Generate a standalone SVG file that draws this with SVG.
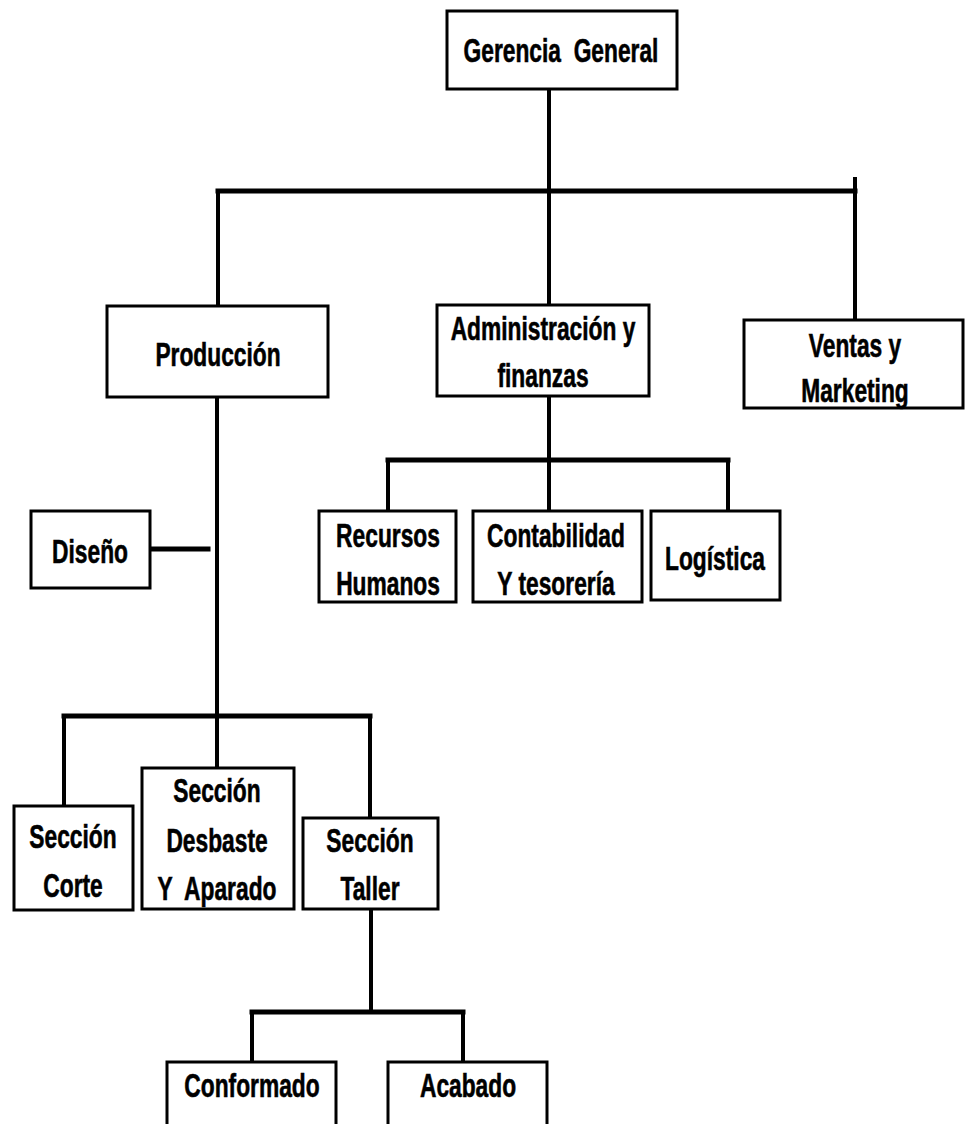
<svg xmlns="http://www.w3.org/2000/svg" width="966" height="1124" viewBox="0 0 966 1124">
  <style>
    .box { fill: #ffffff; stroke: #000000; stroke-width: 3; }
    .t { font-family: "Liberation Sans", Arial, sans-serif; font-weight: bold; font-size: 33px; fill: #000000; stroke: #000000; stroke-width: 0.6; text-anchor: middle; white-space: pre; }
    .ln { stroke: #000000; stroke-width: 4; fill: none; stroke-linecap: square; }
    .hl { stroke: #000000; stroke-width: 5; fill: none; stroke-linecap: square; }
  </style>
  <rect x="0" y="0" width="966" height="1124" fill="#ffffff"/>

  <!-- connectors -->
  <g id="connectors">
    <!-- Gerencia General to first level -->
    <line class="ln" x1="549" y1="89" x2="549" y2="305"/>
    <line class="hl" x1="218" y1="191" x2="855" y2="191"/>
    <line class="ln" x1="218" y1="191" x2="218" y2="306"/>
    <line class="ln" x1="855" y1="179" x2="855" y2="320"/>
    <!-- Administración to its departments -->
    <line class="ln" x1="549" y1="396" x2="549" y2="511"/>
    <line class="hl" x1="388" y1="460" x2="728" y2="460"/>
    <line class="ln" x1="388" y1="460" x2="388" y2="511"/>
    <line class="ln" x1="728" y1="460" x2="728" y2="511"/>
    <!-- Producción trunk -->
    <line class="ln" x1="217" y1="397" x2="217" y2="768"/>
    <line class="hl" x1="150" y1="549" x2="208" y2="549" stroke-linecap="butt"/>
    <line class="hl" x1="64" y1="716" x2="370" y2="716"/>
    <line class="ln" x1="64" y1="716" x2="64" y2="806"/>
    <line class="ln" x1="370" y1="716" x2="370" y2="818"/>
    <!-- Sección Taller to its units -->
    <line class="ln" x1="371" y1="909" x2="371" y2="1012"/>
    <line class="hl" x1="252" y1="1012" x2="463" y2="1012"/>
    <line class="ln" x1="252" y1="1012" x2="252" y2="1062"/>
    <line class="ln" x1="463" y1="1012" x2="463" y2="1062"/>
  </g>

  <g id="gerencia-general">
    <rect class="box" x="447" y="11" width="230" height="78"/>
    <text class="t" xml:space="preserve" transform="translate(561 0) scale(0.69 1)"><tspan x="0" y="62">Gerencia  General</tspan></text>
  </g>

  <g id="produccion">
    <rect class="box" x="107" y="306" width="221" height="91"/>
    <text class="t" transform="translate(218 0) scale(0.69 1)"><tspan x="0" y="366">Producción</tspan></text>
  </g>

  <g id="administracion">
    <rect class="box" x="437" y="305" width="212" height="91"/>
    <text class="t" transform="translate(543 0) scale(0.69 1)"><tspan x="0" y="340">Administración y</tspan><tspan x="0" y="387">finanzas</tspan></text>
  </g>

  <g id="ventas">
    <rect class="box" x="744" y="320" width="219" height="88"/>
    <text class="t" transform="translate(855 0) scale(0.69 1)"><tspan x="0" y="357">Ventas y</tspan><tspan x="0" y="402">Marketing</tspan></text>
  </g>

  <g id="recursos-humanos">
    <rect class="box" x="319" y="511" width="137" height="91"/>
    <text class="t" transform="translate(388 0) scale(0.69 1)"><tspan x="0" y="547">Recursos</tspan><tspan x="0" y="595">Humanos</tspan></text>
  </g>

  <g id="contabilidad">
    <rect class="box" x="473" y="511" width="169" height="91"/>
    <text class="t" transform="translate(556 0) scale(0.69 1)"><tspan x="0" y="547">Contabilidad</tspan><tspan x="0" y="595">Y tesorería</tspan></text>
  </g>

  <g id="logistica">
    <rect class="box" x="651" y="511" width="129" height="89"/>
    <text class="t" transform="translate(715 0) scale(0.69 1)"><tspan x="0" y="570">Logística</tspan></text>
  </g>

  <g id="diseno">
    <rect class="box" x="31" y="511" width="119" height="77"/>
    <text class="t" transform="translate(90 0) scale(0.69 1)"><tspan x="0" y="563">Diseño</tspan></text>
  </g>

  <g id="seccion-corte">
    <rect class="box" x="14" y="806" width="119" height="104"/>
    <text class="t" transform="translate(73 0) scale(0.69 1)"><tspan x="0" y="848">Sección</tspan><tspan x="0" y="897">Corte</tspan></text>
  </g>

  <g id="seccion-desbaste">
    <rect class="box" x="142" y="768" width="152" height="141"/>
    <text class="t" xml:space="preserve" transform="translate(217 0) scale(0.69 1)"><tspan x="0" y="802">Sección</tspan><tspan x="0" y="852">Desbaste</tspan><tspan x="0" y="900">Y  Aparado</tspan></text>
  </g>

  <g id="seccion-taller">
    <rect class="box" x="303" y="818" width="135" height="91"/>
    <text class="t" transform="translate(370 0) scale(0.69 1)"><tspan x="0" y="852">Sección</tspan><tspan x="0" y="900">Taller</tspan></text>
  </g>

  <g id="conformado">
    <rect class="box" x="167" y="1062" width="169" height="80"/>
    <text class="t" transform="translate(252 0) scale(0.69 1)"><tspan x="0" y="1097">Conformado</tspan></text>
  </g>

  <g id="acabado">
    <rect class="box" x="388" y="1062" width="159" height="80"/>
    <text class="t" transform="translate(468 0) scale(0.69 1)"><tspan x="0" y="1097">Acabado</tspan></text>
  </g>
</svg>
